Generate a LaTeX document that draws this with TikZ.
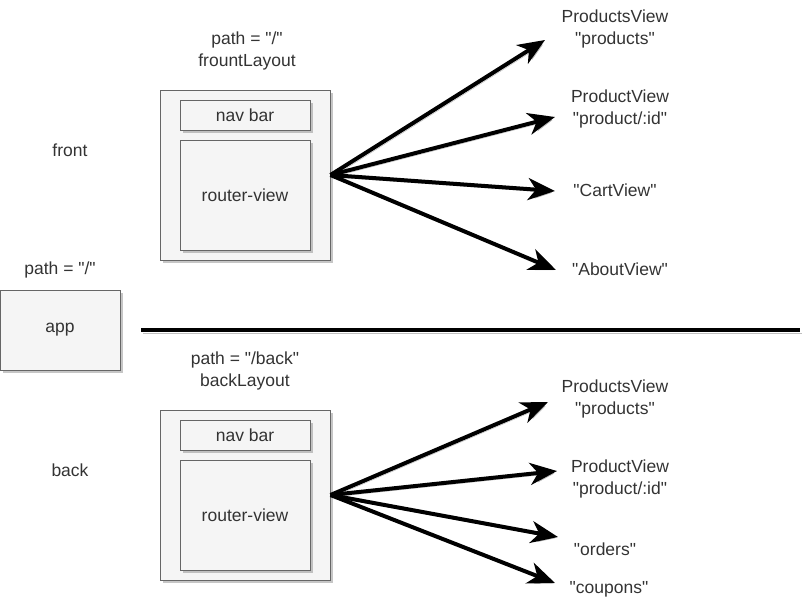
\documentclass[tikz,border=0pt]{standalone}
\usepackage{fontspec}
\setmainfont{Liberation Sans}[Ligatures=TeXOff]
\usetikzlibrary{arrows.meta,shadows}

\definecolor{boxfill}{HTML}{F5F5F5}
\definecolor{boxline}{HTML}{666666}
\definecolor{txt}{HTML}{333333}

\tikzset{
  every node/.style={text=txt,font=\fontsize{17.5}{22}\selectfont},
  panel/.style={draw=boxline,fill=boxfill,line width=1pt,
    drop shadow={shadow xshift=3pt,shadow yshift=-3pt,opacity=.45,fill=gray}},
  label/.style={align=center,inner sep=0pt},
  route/.style={line width=4pt,-{Stealth[length=27pt,width=22pt,inset=8pt]},
    preaction={draw=gray!55,transform canvas={shift={(2pt,-2pt)}}}}
}

\begin{document}
\begin{tikzpicture}[x=1pt,y=-1pt]
\useasboundingbox (0,0) rectangle (806,614);

% app
\node[label] (apppath) at (60,270) {path = "/"};
\node[panel,minimum width=120pt,minimum height=80pt] (app) at (60,330) {app};
\node[label] (front) at (70,150) {front};
\node[label] (back) at (70,470) {back};

% front layout
\node[label] (flpath) at (247,51) {path = "/"\\frountLayout};
\node[panel,minimum width=170pt,minimum height=170pt] (fl) at (245,175) {};
\node[panel,minimum width=130pt,minimum height=30pt] (fnav) at (245,115) {nav bar};
\node[panel,minimum width=130pt,minimum height=110pt] (fview) at (245,195) {router-view};

\node[label] (f1) at (615,29) {ProductsView\\"products"};
\node[label] (f2) at (620,109) {ProductView\\"product/:id"};
\node[label] (f3) at (615,190) {"CartView"};
\node[label] (f4) at (620,269) {"AboutView"};
\coordinate (f1in) at (545,40);
\coordinate (f2in) at (555,117);
\coordinate (f3in) at (555,191);
\coordinate (f4in) at (556,270);

\foreach \t in {f1in,f2in,f3in,f4in}
  \draw[route] (fl.east) -- (\t);

% separator
\coordinate (sepa) at (141,330);
\coordinate (sepb) at (800,330);
\draw[line width=4.5pt,preaction={draw=gray!50,transform canvas={shift={(2pt,-3pt)}}}] (sepa) -- (sepb);

% back layout
\node[label] (blpath) at (245,371) {path = "/back"\\backLayout};
\node[panel,minimum width=170pt,minimum height=170pt] (bl) at (245,495) {};
\node[panel,minimum width=130pt,minimum height=30pt] (bnav) at (245,435) {nav bar};
\node[panel,minimum width=130pt,minimum height=110pt] (bview) at (245,515) {router-view};

\node[label] (b1) at (615,399) {ProductsView\\"products"};
\node[label] (b2) at (620,479) {ProductView\\"product/:id"};
\node[label] (b3) at (605,549) {"orders"};
\node[label] (b4) at (609,589) {"coupons"};
\coordinate (b1in) at (548,402);
\coordinate (b2in) at (557,471);
\coordinate (b3in) at (558,537);
\coordinate (b4in) at (555,583);

\foreach \t in {b1in,b2in,b3in,b4in}
  \draw[route] (bl.east) -- (\t);
\end{tikzpicture}
\end{document}
